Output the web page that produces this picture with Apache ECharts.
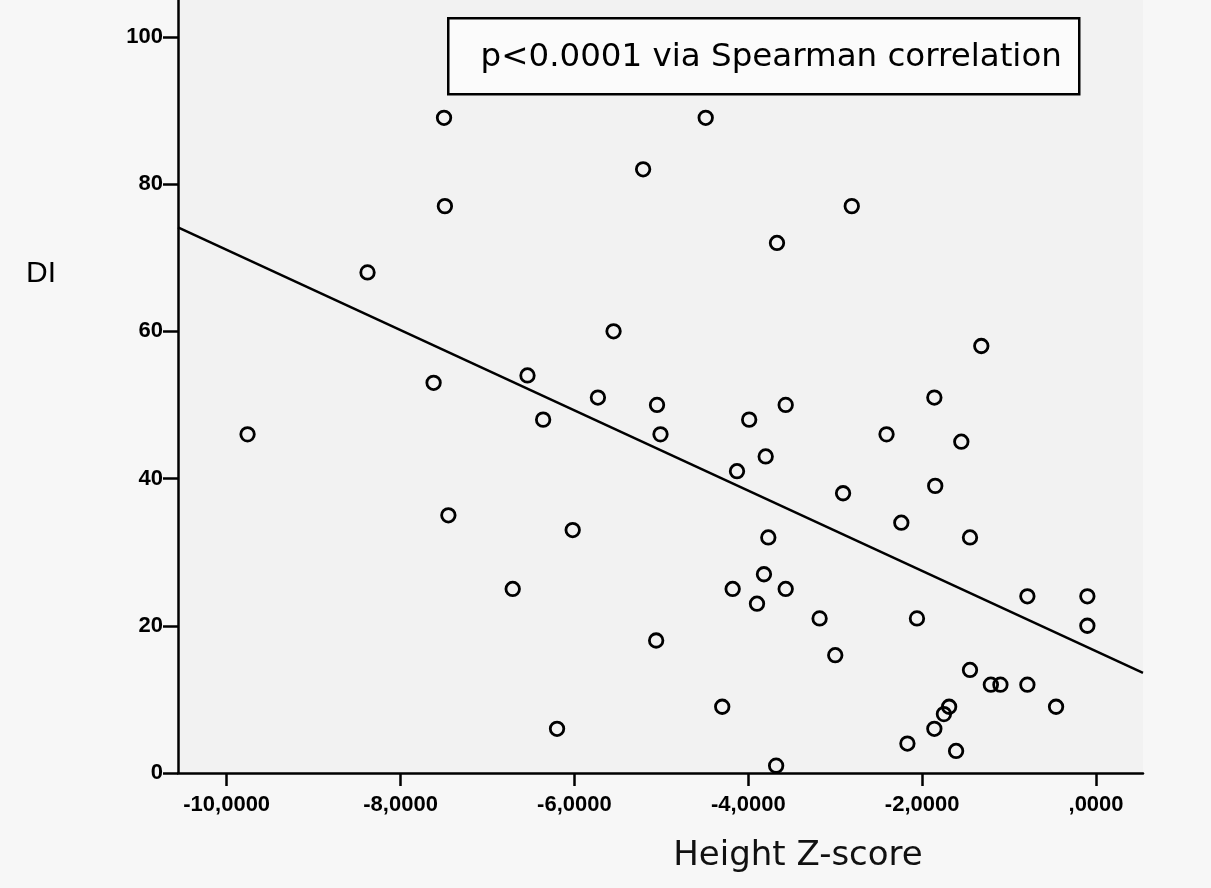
<!DOCTYPE html>
<html>
<head>
<meta charset="utf-8">
<script src="https://cdn.jsdelivr.net/npm/echarts@6/dist/echarts.min.js"></script>
<style>
  html, body { margin: 0; padding: 0; background: #f7f7f7; }
  #chart { width: 1211px; height: 888px; }
</style>
</head>
<body>
<div id="chart"></div>
<script>
// values
const heightZ = [
  -9.76, -8.38, -7.50, -7.49, -7.62, -7.45, -6.71, -6.54, -6.36, -6.20,
  -6.02, -5.73, -5.55, -5.21, -5.05, -5.01, -5.06, -4.49, -4.30, -4.18,
  -4.13, -3.99, -3.90, -3.82, -3.80, -3.77, -3.67, -3.68, -3.57, -3.57,
  -3.18, -3.00, -2.91, -2.81, -2.41, -2.24, -2.17, -2.06, -1.86, -1.85,
  -1.86, -1.75, -1.69, -1.61, -1.55, -1.45, -1.45, -1.32, -1.21, -1.10,
  -0.79, -0.79, -0.46, -0.10, -0.10
];
const diValues = [
  46, 68, 89, 77, 53, 35, 25, 54, 48, 6,
  33, 51, 60, 82, 50, 46, 18, 89, 9, 25,
  41, 48, 23, 27, 43, 32, 72, 1, 50, 25,
  21, 16, 38, 77, 46, 34, 4, 21, 6, 39,
  51, 8, 9, 3, 45, 32, 14, 58, 12, 12,
  24, 12, 9, 24, 20
];
// fit line ends (left and right edge of the plot)
const fitX = [-10.56, 0.54];
const fitY = [74.1, 13.6];

const xTicks = [-10, -8, -6, -4, -2, 0];
const yTicks = [0, 20, 40, 60, 80, 100];

function fmtX(v) {
    if (v === 0) return ',0000';
    return String(v) + ',0000';
}

let points = heightZ.map(function(x, i) { return [x, diValues[i]]; });
let linePts = fitX.map(function(x, i) { return [x, fitY[i]]; });

let myChart = echarts.init(document.getElementById('chart'));
let option = {
    backgroundColor: '#f7f7f7',
    animation: false,
    grid: {
        left: 178, right: 68, top: 0, bottom: 115,
        show: true, backgroundColor: '#f2f2f2', borderWidth: 0
    },
    xAxis: {
        type: 'value',
        min: -10.56, max: 0.54,
        splitLine: { show: false },
        axisLine: { onZero: false, lineStyle: { color: '#000', width: 2.5 } },
        axisTick: { show: true, customValues: xTicks, length: 13, lineStyle: { color: '#000', width: 2.5 } },
        axisLabel: {
            customValues: xTicks, formatter: fmtX, margin: 21,
            color: '#000', fontFamily: 'Liberation Sans', fontSize: 22, fontWeight: 'bold'
        }
    },
    yAxis: {
        type: 'value',
        min: 0, max: 105,
        splitLine: { show: false },
        axisLine: { onZero: false, lineStyle: { color: '#000', width: 2.5 } },
        axisTick: { show: true, customValues: yTicks, length: 15, lineStyle: { color: '#000', width: 2.5 } },
        axisLabel: {
            customValues: yTicks, margin: 15,
            color: '#000', fontFamily: 'Liberation Sans', fontSize: 22, fontWeight: 'bold'
        }
    },
    graphic: [
        {
            type: 'text', left: 26, top: 259,
            style: { text: 'DI', fill: '#000', font: '30px "Liberation Sans"' }
        },
        {
            type: 'text', x: 798, y: 856,
            style: {
                text: 'Height Z-score', fill: '#111', font: '34px "DejaVu Sans"',
                align: 'center', verticalAlign: 'middle'
            }
        },
        {
            type: 'group', left: 447, top: 17,
            children: [
                {
                    type: 'rect',
                    shape: { x: 0, y: 0, width: 631, height: 76 },
                    style: { fill: '#fbfbfb', stroke: '#000', lineWidth: 2.5 }
                },
                {
                    type: 'text', x: 323, y: 39,
                    style: {
                        text: 'p<0.0001 via Spearman correlation',
                        fill: '#000', font: '32.5px "DejaVu Sans"',
                        align: 'center', verticalAlign: 'middle'
                    }
                }
            ]
        }
    ],
    series: [
        {
            type: 'line',
            data: linePts,
            symbol: 'none',
            lineStyle: { color: '#000', width: 2.5 },
            z: 1
        },
        {
            type: 'scatter',
            data: points,
            symbol: 'circle',
            symbolSize: 13.5,
            itemStyle: { color: 'rgba(0,0,0,0)', borderColor: '#000', borderWidth: 2.8, opacity: 1 },
            z: 2
        }
    ]
};
myChart.setOption(option);
</script>
</body>
</html>
